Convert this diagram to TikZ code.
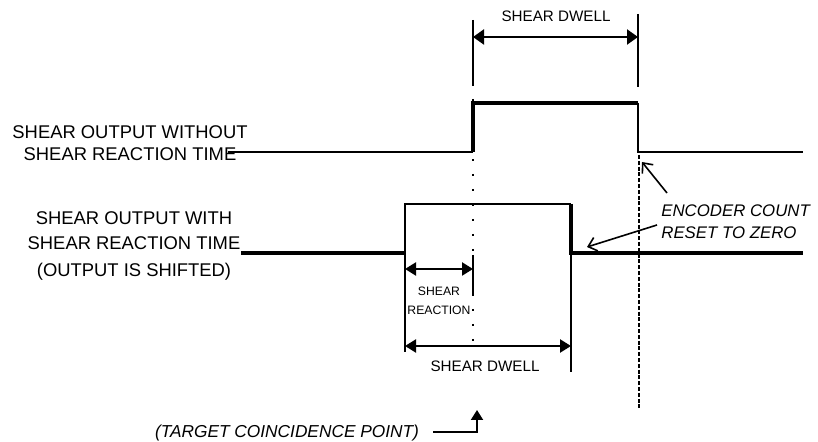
\documentclass[tikz,border=0pt]{standalone}
\usepackage{fontspec}
\setmainfont{Liberation Sans}
\usetikzlibrary{arrows.meta,positioning}

\tikzset{
    sig/.style={line width=2pt},
    sigthin/.style={line width=1pt},
    extline/.style={line width=1.1pt},
    dimarrow/.style={line width=1.1pt,{Triangle[length=5.5pt,width=7.5pt]}-{Triangle[length=5.5pt,width=7.5pt]}},
    smalldim/.style={line width=1.1pt,{Triangle[length=5.5pt,width=6.5pt]}-{Triangle[length=5.5pt,width=6.5pt]}},
    pointer/.style={line width=0.8pt,-{Straight Barb[length=4pt,width=7pt]}},
    lbl/.style={font=\fontsize{9.2}{11}\selectfont,align=center,inner sep=0pt},
    dimlbl/.style={font=\fontsize{7.6}{9}\selectfont,inner sep=0pt},
    note/.style={font=\fontsize{8.4}{11}\selectfont\itshape,align=left,inner sep=0pt}
}

\begin{document}
\begin{tikzpicture}[x=0.5pt,y=-0.5pt]
    \useasboundingbox (0,0) rectangle (818,442);

    % labels
    \node[lbl] (outA) at (130,143) {SHEAR OUTPUT WITHOUT\\SHEAR REACTION TIME};
    \node[lbl,font=\fontsize{9.2}{12.2}\selectfont] (outB) at (134,246) {SHEAR OUTPUT WITH\\SHEAR REACTION TIME\\[1.5pt](OUTPUT IS SHIFTED)};
    \node[dimlbl] (dwA) at (556,16) {SHEAR DWELL};
    \node[dimlbl] (dwB) at (485,366) {SHEAR DWELL};
    \node[dimlbl,font=\fontsize{6.1}{9.5}\selectfont,align=center] (react) at (439,301) {SHEAR\\REACTION};
    \node[note,anchor=west] (enc) at (661,222) {ENCODER COUNT\\RESET TO ZERO};
    \node[note,font=\fontsize{8.65}{10}\selectfont\itshape] (tgt) at (287,433) {(TARGET COINCIDENCE POINT)};

    % signal without reaction time
    \coordinate (t0) at (228,152);
    \coordinate (t1) at (473,152);
    \coordinate (t2) at (473,103);
    \coordinate (t3) at (638,103);
    \coordinate (t4) at (638,152);
    \coordinate (t5) at (803,152);
    \draw[sigthin] (t0) -- (t1);
    \draw[sig] (t1) -- (t2) -- (t3);
    \draw[sigthin] (t3) -- (t4) -- (t5);

    % signal with reaction time
    \coordinate (b0) at (241,253);
    \coordinate (b1) at (405,253);
    \coordinate (b2) at (405,204);
    \coordinate (b3) at (571,204);
    \coordinate (b4) at (571,253);
    \coordinate (b5) at (803,253);
    \draw[sig] (b0) -- (b1);
    \draw[sigthin] (b1) -- (b2) -- (b3);
    \draw[sig] (b3) -- (b4) -- (b5);

    % extension lines
    \coordinate (eA1) at (473,20);
    \coordinate (eA2) at (473,85);
    \coordinate (eB1) at (638,14);
    \coordinate (eB2) at (638,87);
    \coordinate (eC) at (405,352);
    \coordinate (eD) at (571,372);
    \coordinate (eE1) at (473,255);
    \coordinate (eE2) at (473,295);
    \draw[extline] (eA1) -- (eA2);
    \draw[extline] (eB1) -- (eB2);
    \draw[extline] (b1) -- (eC);
    \draw[extline] (b4) -- (eD);
    \draw[extline] (eE1) -- (eE2);

    % dimension arrows
    \draw[dimarrow] (473,37) coordinate (dA1) -- (638,37) coordinate (dA2);
    \draw[smalldim] (405,269) coordinate (dR1) -- (473,269) coordinate (dR2);
    \draw[smalldim] (405,346) coordinate (dB1) -- (571,346) coordinate (dB2);

    % reference lines
    \coordinate (zA) at (639,155);
    \coordinate (zB) at (639,410);
    \draw[line width=1.1pt,dash pattern=on 2pt off 0.9pt] (zA) -- (zB);
    \coordinate (cA) at (473,84);
    \coordinate (cB) at (473,350);
    \draw[line width=1pt,dash pattern=on 1.2pt off 6.3pt] (cA) -- (cB);

    % pointers
    \coordinate (p1) at (667,193);
    \coordinate (p1t) at (642,162);
    \coordinate (p2) at (657,225);
    \coordinate (p2t) at (587,247);
    \draw[pointer] (p1) -- (p1t);
    \draw[pointer] (p2) -- (p2t);

    % target point
    \coordinate (g0) at (433,432);
    \coordinate (g1) at (477,410);
    \draw[line width=1pt,-{Triangle[length=5pt,width=6pt]}] (g0) -| (g1);
\end{tikzpicture}
\end{document}
